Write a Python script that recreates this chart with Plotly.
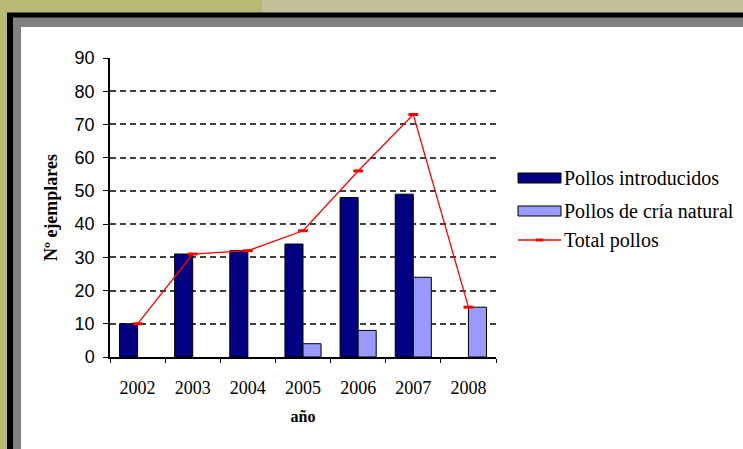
import plotly.graph_objects as go

# ---- data ----
years = ["2002", "2003", "2004", "2005", "2006", "2007", "2008"]
pollos_introducidos = [10, 31, 32, 34, 48, 49, None]
pollos_cria_natural = [None, None, None, 4, 8, 24, 15]
total_pollos = [10, 31, 32, 38, 56, 73, 15]
y_ticks = [0, 10, 20, 30, 40, 50, 60, 70, 80, 90]
grid_vals = [10, 20, 30, 40, 50, 60, 70, 80]

W, H = 743, 449
L, R, T, B = 110, 496, 58, 357  # plot area in pixels


def px(xp):
    return (xp - L) / (R - L)


def py(yp):
    return (B - yp) / (B - T)


NAVY = "#000080"
LIGHT = "#9999ff"
RED = "#ff0000"
SERIF = "Liberation Serif, Times New Roman, serif"

fig = go.Figure()
fig.add_trace(go.Bar(x=years, y=pollos_introducidos, name="Pollos introducidos",
                     marker=dict(color=NAVY, line=dict(color="black", width=1))))
fig.add_trace(go.Bar(x=years, y=pollos_cria_natural, name="Pollos de cría natural",
                     marker=dict(color=LIGHT, line=dict(color="black", width=1))))
fig.add_trace(go.Scatter(x=years, y=total_pollos, name="Total pollos", mode="lines+markers",
                         line=dict(color=RED, width=1.3),
                         marker=dict(symbol="line-ew", size=7, color=RED,
                                     line=dict(color=RED, width=3))))

shapes = []
# frame background
shapes.append(dict(type="rect", xref="paper", yref="paper", layer="below",
                   x0=px(262), x1=px(800), y0=py(0), y1=py(13),
                   fillcolor="#c4bf99", line=dict(width=0)))
shapes.append(dict(type="rect", xref="paper", yref="paper", layer="below",
                   x0=px(7), x1=px(800), y0=py(12.5), y1=py(500),
                   fillcolor="#000000", line=dict(width=0)))
shapes.append(dict(type="rect", xref="paper", yref="paper", layer="below",
                   x0=px(13), x1=px(800), y0=py(17.5), y1=py(500),
                   fillcolor="#808080", line=dict(width=0)))
shapes.append(dict(type="rect", xref="paper", yref="paper", layer="below",
                   x0=px(21), x1=px(800), y0=py(27), y1=py(500),
                   fillcolor="#ffffff", line=dict(width=0)))
# custom legend symbols
shapes.append(dict(type="rect", xref="paper", yref="paper",
                   x0=px(518), x1=px(561), y0=py(183), y1=py(173),
                   fillcolor=NAVY, line=dict(color="black", width=1)))
shapes.append(dict(type="rect", xref="paper", yref="paper",
                   x0=px(518), x1=px(561), y0=py(216), y1=py(206),
                   fillcolor=LIGHT, line=dict(color="black", width=1)))
shapes.append(dict(type="line", xref="paper", yref="paper",
                   x0=px(518), x1=px(561), y0=py(240), y1=py(240),
                   line=dict(color=RED, width=1.3)))
shapes.append(dict(type="rect", xref="paper", yref="paper",
                   x0=px(536), x1=px(543), y0=py(241.5), y1=py(238.5),
                   fillcolor=RED, line=dict(width=0)))

legend_font = dict(family=SERIF, size=20, color="black")
annotations = []
for label, yc in zip(["Pollos introducidos", "Pollos de cría natural", "Total pollos"],
                     [178, 211, 240]):
    annotations.append(dict(text=label, xref="paper", yref="paper", x=px(562), y=py(yc),
                            xanchor="left", yanchor="middle", showarrow=False,
                            font=legend_font))

fig.update_layout(
    width=W, height=H,
    margin=dict(l=L, r=W - R, t=T, b=H - B, pad=0),
    paper_bgcolor="#b9b875",
    plot_bgcolor="rgba(0,0,0,0)",
    showlegend=False,
    barmode="group", bargap=0.345, bargroupgap=0,
    shapes=shapes, annotations=annotations,
)
fig.update_xaxes(
    type="category", tickson="boundaries", ticks="outside", ticklen=4, tickcolor="black",
    showline=True, linecolor="black", linewidth=1.5, showgrid=False,
    tickfont=dict(family=SERIF, size=18, color="black"),
    ticklabelstandoff=14,
    title=dict(text="<b>año</b>", font=dict(family=SERIF, size=16, color="black"),
               standoff=13),
)
fig.update_yaxes(
    range=[0, 90], tickvals=y_ticks, ticks="outside", ticklen=5, tickcolor="black",
    showline=True, linecolor="black", linewidth=1.5, showgrid=False, zeroline=False,
    tickfont=dict(family="Liberation Sans, Arial, sans-serif", size=18, color="black"),
    ticklabelstandoff=5,
    minor=dict(tickvals=grid_vals, showgrid=True, gridcolor="#404040", gridwidth=2,
               griddash="6px,4px", ticks=""),
    title=dict(text="<b>Nº ejemplares</b>", font=dict(family=SERIF, size=18, color="black"),
               standoff=12),
)

fig.write_html("out.html", config={"displayModeBar": False},
               post_script="document.body.style.margin='0';document.body.style.padding='0';")
